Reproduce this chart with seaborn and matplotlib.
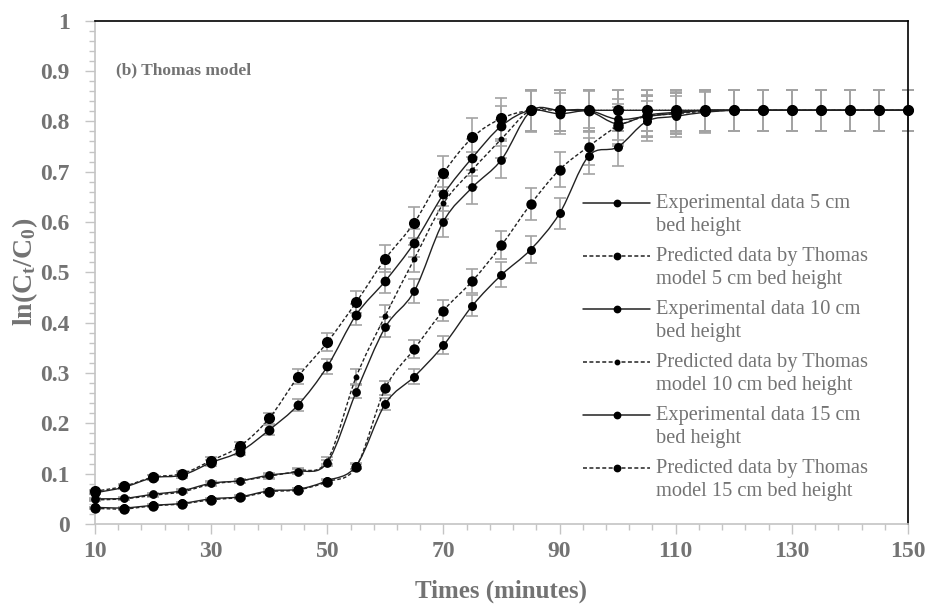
import numpy as np
import matplotlib
matplotlib.use("Agg")
import matplotlib.pyplot as plt
from matplotlib.path import Path
from matplotlib.patches import PathPatch
from matplotlib.lines import Line2D
from matplotlib.legend_handler import HandlerLine2D
from matplotlib.ticker import FixedLocator, FuncFormatter
import seaborn as sns

# ---- data -----------------------------------------------------------------
time_min = [10, 15, 20, 25, 30, 35, 40, 45, 50, 55, 60, 65, 70, 75, 80,
            85, 90, 95, 100, 105, 110, 115, 120, 125, 130, 135, 140, 145, 150]

exp_5cm = [0.062, 0.073, 0.092, 0.097, 0.122, 0.144, 0.187, 0.237, 0.313, 0.416,
           0.483, 0.559, 0.655, 0.728, 0.791, 0.822, 0.815, 0.820, 0.795, 0.812,
           0.818, 0.822, 0.822, 0.822, 0.822, 0.822, 0.822, 0.822, 0.822]
pred_5cm = [0.065, 0.075, 0.093, 0.100, 0.126, 0.155, 0.210, 0.293, 0.361, 0.441,
            0.527, 0.599, 0.697, 0.768, 0.806, 0.822, 0.822, 0.822, 0.822, 0.822,
            0.822, 0.822, 0.822, 0.822, 0.822, 0.822, 0.822, 0.822, 0.822]
exp_10cm = [0.050, 0.051, 0.059, 0.066, 0.081, 0.086, 0.097, 0.104, 0.122, 0.263,
            0.391, 0.463, 0.601, 0.669, 0.724, 0.820, 0.822, 0.822, 0.804, 0.810,
            0.816, 0.822, 0.822, 0.822, 0.822, 0.822, 0.822, 0.822, 0.822]
pred_10cm = [0.048, 0.050, 0.057, 0.064, 0.079, 0.086, 0.095, 0.106, 0.126, 0.293,
             0.414, 0.527, 0.637, 0.704, 0.765, 0.822, 0.822, 0.822, 0.822, 0.822,
             0.822, 0.822, 0.822, 0.822, 0.822, 0.822, 0.822, 0.822, 0.822]
exp_15cm = [0.033, 0.032, 0.037, 0.041, 0.050, 0.054, 0.066, 0.069, 0.086, 0.116,
            0.239, 0.293, 0.355, 0.434, 0.495, 0.545, 0.617, 0.731, 0.749, 0.800,
            0.810, 0.818, 0.822, 0.822, 0.822, 0.822, 0.822, 0.822, 0.822]
pred_15cm = [0.031, 0.030, 0.036, 0.040, 0.048, 0.053, 0.064, 0.068, 0.084, 0.114,
             0.270, 0.348, 0.424, 0.483, 0.554, 0.635, 0.704, 0.750, 0.790, 0.810,
             0.815, 0.820, 0.822, 0.822, 0.822, 0.822, 0.822, 0.822, 0.822]

series_labels = [
    "Experimental data 5 cm\nbed height",
    "Predicted data by Thomas\nmodel 5 cm bed height",
    "Experimental data 10 cm\nbed height",
    "Predicted data by Thomas\nmodel 10 cm bed height",
    "Experimental data 15 cm\nbed height",
    "Predicted data by Thomas\nmodel 15 cm bed height",
]
series_values = [exp_5cm, pred_5cm, exp_10cm, pred_10cm, exp_15cm, pred_15cm]
error_fraction = 0.05          # percentage error bars (5 %)

# ---- style ----------------------------------------------------------------
GRAY = "#737373"
AXIS_GRAY = "#c4c4c4"
ERR_GRAY = "#a3a3a3"
LINE = "#222222"
DASH = (0, (2.6, 1.6))
styles = [
    dict(ls="-", s=50),
    dict(ls=DASH, s=64),
    dict(ls="-", s=40),
    dict(ls=DASH, s=18),
    dict(ls="-", s=42),
    dict(ls=DASH, s=56),
]

sns.set_theme(style="white")
plt.rcParams["font.family"] = ["Liberation Serif", "DejaVu Serif"]
plt.rcParams["mathtext.fontset"] = "custom"
plt.rcParams["mathtext.rm"] = "Liberation Serif"
plt.rcParams["mathtext.it"] = "Liberation Serif:italic"
plt.rcParams["mathtext.bf"] = "Liberation Serif:bold"

W, H = 928, 607
fig = plt.figure(figsize=(W / 100, H / 100), dpi=100)
fig.patch.set_facecolor("white")
ax = fig.add_axes([95 / W, 1 - 524 / H, (908 - 95) / W, (524 - 20.7) / H])


def smooth_path(xs, ys):
    """Cubic Bezier path through the points (spreadsheet-style smoothing)."""
    pts = np.column_stack([xs, ys]).astype(float)
    n = len(pts)
    verts, codes = [pts[0]], [Path.MOVETO]
    for i in range(n - 1):
        p0 = pts[i - 1] if i > 0 else pts[i]
        p1, p2 = pts[i], pts[i + 1]
        p3 = pts[i + 2] if i + 2 < n else pts[i + 1]
        verts += [p1 + (p2 - p0) / 6.0, p2 - (p3 - p1) / 6.0, p2]
        codes += [Path.CURVE4] * 3
    return Path(verts, codes)


x = np.asarray(time_min, float)
for vals, st in zip(series_values, styles):
    y = np.asarray(vals, float)
    ax.errorbar(x, y, yerr=y * error_fraction, fmt="none", ecolor=ERR_GRAY,
                elinewidth=1.2, capsize=4.5, capthick=1.2, zorder=2, clip_on=False)
    ax.add_patch(PathPatch(smooth_path(x, y), fill=False, edgecolor=LINE,
                           lw=1.0, linestyle=st["ls"], zorder=3, clip_on=False))
    sns.scatterplot(x=x, y=y, ax=ax, s=st["s"], color="black", edgecolor="black",
                    linewidth=0, zorder=4, clip_on=False, legend=False)

# ---- axes -----------------------------------------------------------------
ax.set_xlim(10, 150)
ax.set_ylim(0, 1)
ax.xaxis.set_major_locator(FixedLocator(np.arange(10, 151, 20)))
ax.xaxis.set_minor_locator(FixedLocator(np.arange(10, 151, 4)))
ax.yaxis.set_major_locator(FixedLocator(np.round(np.arange(0, 1.01, 0.1), 2)))
ax.yaxis.set_minor_locator(FixedLocator(np.round(np.arange(0, 1.01, 0.02), 2)))
ax.yaxis.set_major_formatter(FuncFormatter(lambda v, p: f"{round(v, 2):g}"))

for side in ("left", "bottom"):
    ax.spines[side].set_color(AXIS_GRAY)
    ax.spines[side].set_linewidth(1.2)
for side in ("top", "right"):
    ax.spines[side].set_color("black")
    ax.spines[side].set_linewidth(1.2)

ax.tick_params(axis="both", which="major", direction="out", length=7, width=1,
               color=AXIS_GRAY, labelcolor=GRAY, bottom=True, left=True)
ax.tick_params(axis="both", which="minor", direction="out", length=4, width=1,
               color=AXIS_GRAY, bottom=True, left=True)
ax.tick_params(axis="x", which="major", labelsize=17, pad=5)
ax.tick_params(axis="y", which="major", labelsize=17, pad=11)
for lab in ax.get_xticklabels() + ax.get_yticklabels():
    lab.set_fontweight("bold")

ax.set_xlabel("Times (minutes)", fontsize=18, fontweight="bold", color=GRAY, labelpad=13)
ax.set_ylabel(r"$\mathbf{ln(C_t/C_0)}$", fontsize=20, color=GRAY, labelpad=0)

fig.text(116 / W, 1 - 70 / H, "(b) Thomas model", fontsize=12.5, fontweight="bold",
         color=GRAY, ha="left", va="center")


# ---- legend ---------------------------------------------------------------
class FirstLineHandler(HandlerLine2D):
    """Places the legend key level with the first line of a two-line label."""

    def __init__(self, lift, **kw):
        super().__init__(**kw)
        self.lift = lift

    def create_artists(self, legend, orig_handle, xdescent, ydescent, width,
                       height, fontsize, trans):
        arts = super().create_artists(legend, orig_handle, xdescent, ydescent,
                                      width, height, fontsize, trans)
        for a in arts:
            a.set_ydata(np.asarray(a.get_ydata(), float) + self.lift)
        return arts


legend_ms = [4.6, 4.6, 4.6, 3.2, 4.6, 4.6]
handles = [Line2D([], [], color=LINE, lw=1.1, linestyle=st["ls"], marker="o",
                  markersize=ms, markerfacecolor="black", markeredgecolor="black")
           for st, ms in zip(styles, legend_ms)]
LEG_FS = 14.7
leg = ax.legend(handles, series_labels, loc="upper left",
                bbox_to_anchor=(583 / W, 1 - 194 / H), bbox_transform=fig.transFigure,
                frameon=False, prop={"family": "Liberation Serif", "size": LEG_FS},
                labelcolor=GRAY, handlelength=3.3, handletextpad=0.3,
                labelspacing=0.54, borderpad=0, borderaxespad=0,
                handler_map={Line2D: FirstLineHandler(lift=8.3)})
for t in leg.get_texts():
    t.set_linespacing(1.28)

fig.savefig("out.png", dpi=100, facecolor="white")
